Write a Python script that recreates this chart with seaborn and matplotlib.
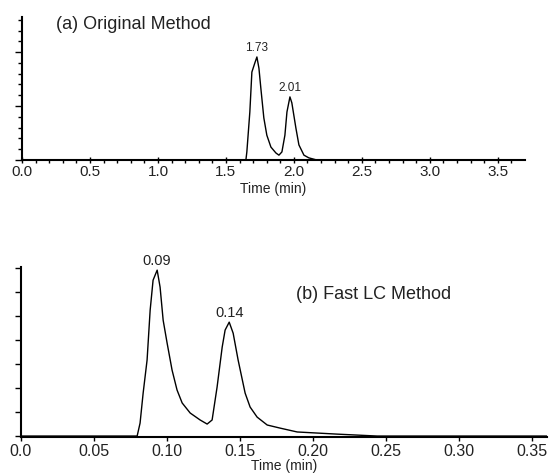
import numpy as np
import pandas as pd
import matplotlib
matplotlib.use("Agg")
import matplotlib.pyplot as plt
import seaborn as sns

# (a) original method chromatogram
orig_time = [0.0, 1.60, 1.647, 1.654, 1.676, 1.691, 1.713, 1.728, 1.743, 1.757, 1.779,
             1.801, 1.831, 1.868, 1.890, 1.912, 1.934, 1.949, 1.971, 1.985, 2.015,
             2.037, 2.074, 2.110, 2.169, 3.69]
orig_signal = [0.0, 0.0, 0.0, 0.15, 0.89, 1.63, 1.80, 1.91, 1.70, 1.33, 0.78,
               0.46, 0.24, 0.13, 0.09, 0.15, 0.46, 0.89, 1.17, 1.06, 0.59,
               0.28, 0.09, 0.04, 0.0, 0.0]
orig_peaks = [1.73, 2.01]
orig_peak_pos = [1.728, 1.971]
orig_peak_h = [1.91, 1.17]

# (b) fast LC method chromatogram
fast_time = [0.0, 0.0795, 0.0815, 0.0836, 0.0863, 0.0884, 0.0904, 0.0932, 0.0952,
             0.0973, 0.1000, 0.1034, 0.1068, 0.1103, 0.1158, 0.1226, 0.1274, 0.1308,
             0.1342, 0.1377, 0.1397, 0.1425, 0.1452, 0.1486, 0.1534, 0.1568, 0.1616,
             0.1685, 0.1774, 0.1890, 0.2027, 0.2164, 0.2301, 0.2438, 0.36]
fast_signal = [0.0, 0.0, 0.54, 1.79, 3.17, 5.25, 6.5, 6.92, 6.21,
               4.83, 3.88, 2.75, 1.92, 1.38, 0.96, 0.67, 0.5, 0.67,
               2.04, 3.71, 4.42, 4.75, 4.29, 3.17, 1.79, 1.21, 0.79,
               0.46, 0.33, 0.17, 0.125, 0.08, 0.04, 0.0, 0.0]
fast_peaks = [0.09, 0.14]
fast_peak_pos = [0.0932, 0.1425]
fast_peak_h = [6.92, 4.75]

df_a = pd.DataFrame({"time": orig_time, "signal": orig_signal})
df_b = pd.DataFrame({"time": fast_time, "signal": fast_signal})

sns.set_style("ticks")
plt.rcParams["font.family"] = ["Liberation Sans", "DejaVu Sans"]

fig = plt.figure(figsize=(5.52, 4.73), dpi=100)
ax1 = fig.add_axes([0.0399, 0.6617, 0.9111, 0.3023])
ax2 = fig.add_axes([0.038, 0.0761, 0.953, 0.3594])

txt = "#222222"

# top panel
sns.lineplot(data=df_a, x="time", y="signal", ax=ax1, color="black", linewidth=1.0)
ax1.set_xlim(0, 3.70)
ax1.set_ylim(0, 2.65)
ax1.set_xticks(np.arange(0, 3.6, 0.5))
ax1.set_xticks(np.arange(0, 3.7, 0.1), minor=True)
ax1.set_xticklabels([f"{v:.1f}" for v in np.arange(0, 3.6, 0.5)])
ax1.set_yticks([0, 1, 2])
ax1.set_yticks(np.arange(0, 2.65, 0.2), minor=True)
ax1.set_yticklabels([])
ax1.tick_params(axis="x", which="major", direction="inout", length=5, width=1,
                labelsize=11, colors=txt, pad=1)
ax1.tick_params(axis="x", which="minor", direction="out", length=2, width=1)
ax1.tick_params(axis="y", which="major", direction="out", length=5, width=1)
ax1.tick_params(axis="y", which="minor", direction="out", length=3, width=1)
ax1.set_xlabel("Time (min)", fontsize=10, color=txt, labelpad=2)
ax1.set_ylabel("")
ax1.text(0.25, 2.52, "(a) Original Method", fontsize=13, color=txt, va="center")
for lab, x, h in zip(orig_peaks, orig_peak_pos, orig_peak_h):
    ax1.text(x, h + 0.05, f"{lab:.2f}", fontsize=8.5, color=txt, ha="center", va="bottom")

# bottom panel
sns.lineplot(data=df_b, x="time", y="signal", ax=ax2, color="black", linewidth=1.0)
ax2.set_xlim(0, 0.36)
ax2.set_ylim(-0.04, 7.05)
ax2.set_xticks(np.arange(0, 0.36, 0.05))
ax2.set_xticklabels(["0.0"] + [f"{v:.2f}" for v in np.arange(0.05, 0.36, 0.05)])
ax2.set_yticks(np.arange(0, 8, 1))
ax2.set_yticklabels([])
ax2.tick_params(axis="x", direction="out", length=3, width=1, labelsize=11.5,
                colors=txt, pad=2)
ax2.tick_params(axis="y", direction="out", length=4, width=1)
ax2.set_xlabel("Time (min)", fontsize=10, color=txt, labelpad=0)
ax2.set_ylabel("")
ax2.text(0.188, 5.9, "(b) Fast LC Method", fontsize=13, color=txt, va="center")
for lab, x, h in zip(fast_peaks, fast_peak_pos, fast_peak_h):
    ax2.text(x, h + 0.08, f"{lab:.2f}", fontsize=10.5, color=txt, ha="center", va="bottom")

for ax in (ax1, ax2):
    sns.despine(ax=ax)
    for s in ("left", "bottom"):
        ax.spines[s].set_color("black")
        ax.spines[s].set_linewidth(1.5)
    ax.tick_params(axis="both", which="both", color="black")

fig.savefig("out.png", dpi=100)
